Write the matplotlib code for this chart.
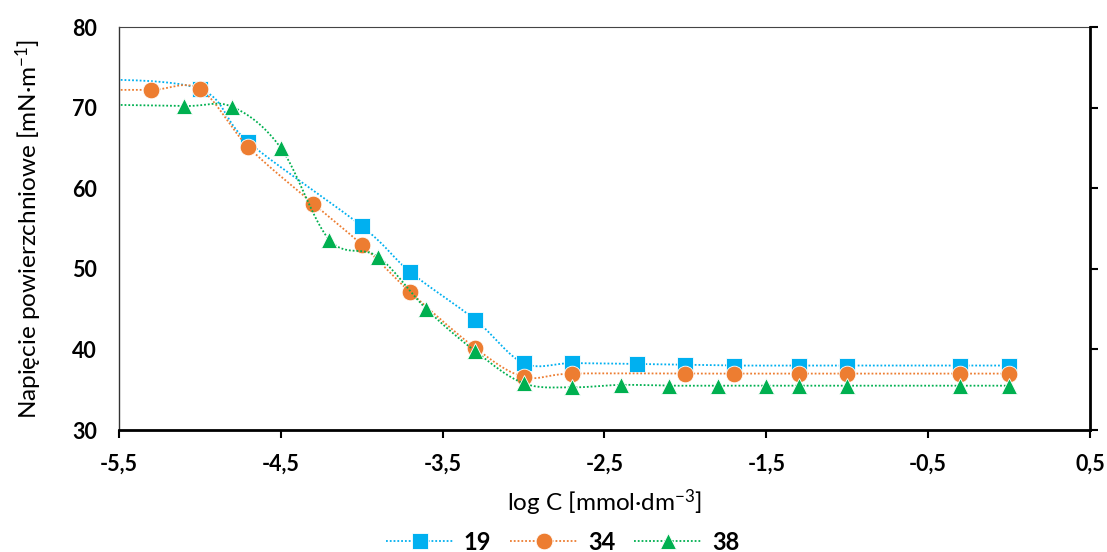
import numpy as np
import matplotlib
matplotlib.use("Agg")
import matplotlib.pyplot as plt
from matplotlib.lines import Line2D

plt.rcParams['font.family'] = ['Lato', 'DejaVu Sans']
plt.rcParams['mathtext.fontset'] = 'custom'
plt.rcParams['mathtext.rm'] = 'Lato'
plt.rcParams['mathtext.default'] = 'regular'

# data (first point of each series sits left of the axis and gets clipped)
x19 = [-5.7, -5.0, -4.7, -4.0, -3.7, -3.3, -3.0, -2.7, -2.3, -2.0, -1.7, -1.3, -1.0, -0.3, 0.0]
y19 = [73.6, 72.3, 65.7, 55.3, 49.6, 43.7, 38.3, 38.3, 38.2, 38.1, 38.0, 38.0, 38.0, 38.0, 38.0]

x34 = [-5.7, -5.3, -5.0, -4.7, -4.3, -4.0, -3.7, -3.3, -3.0, -2.7, -2.0, -1.7, -1.3, -1.0, -0.3, 0.0]
y34 = [72.2, 72.2, 72.3, 65.1, 58.1, 53.0, 47.1, 40.2, 36.6, 37.0, 37.0, 37.0, 37.0, 37.0, 37.0, 37.0]

x38 = [-5.7, -5.1, -4.8, -4.5, -4.2, -3.9, -3.6, -3.3, -3.0, -2.7, -2.4, -2.1, -1.8, -1.5, -1.3, -1.0, -0.3, 0.0]
y38 = [70.4, 70.2, 70.1, 65.0, 53.6, 51.5, 45.0, 39.8, 35.8, 35.3, 35.6, 35.5, 35.5, 35.5, 35.5, 35.5, 35.5, 35.5]

labels = ['19', '34', '38']
colors = ['#00B0F0', '#ED7D31', '#00B050']
markers = ['s', 'o', '^']


def smooth(xs, ys, n=30):
    # Excel-like smoothed line: Bezier segments with Catmull-Rom control points
    p = np.column_stack([xs, ys]).astype(float)
    pts = []
    for i in range(len(p) - 1):
        p0 = p[i - 1] if i > 0 else p[i]
        p1, p2 = p[i], p[i + 1]
        p3 = p[i + 2] if i + 2 < len(p) else p[i + 1]
        c1 = p1 + (p2 - p0) / 6.0
        c2 = p2 - (p3 - p1) / 6.0
        t = np.linspace(0, 1, n)[:, None]
        seg = ((1 - t) ** 3) * p1 + 3 * ((1 - t) ** 2) * t * c1 + 3 * (1 - t) * t ** 2 * c2 + t ** 3 * p2
        pts.append(seg)
    pts = np.vstack(pts)
    return pts[:, 0], pts[:, 1]


fig = plt.figure(figsize=(11.07, 5.52), dpi=100)
ax = fig.add_axes([0.1075, 0.221, 0.8771, 0.730])

dots = (0, (1, 1.1))
handles = []
for xs, ys, c, m, lab in zip([x19, x34, x38], [y19, y34, y38], colors, markers, labels):
    sx, sy = smooth(xs, ys)
    ax.plot(sx, sy, color=c, lw=1.3, ls=dots)
    ms = 12 if m == 'o' else 11
    ax.plot(xs, ys, ls='none', marker=m, ms=ms, color=c, mec='white', mew=0.6)
    handles.append(Line2D([0], [0], color=c, lw=1.3, ls=dots, marker=m, ms=ms, mec='white', mew=0.6))

ax.set_xlim(-5.5, 0.5)
ax.set_ylim(30, 80)
xt = np.arange(-5.5, 0.51, 1.0)
ax.set_xticks(xt)
ax.set_xticklabels([f"{v:.1f}".replace('.', ',') for v in xt])
ax.set_yticks(np.arange(30, 81, 10))

for lab in ax.get_xticklabels() + ax.get_yticklabels():
    lab.set_fontweight('bold')
    lab.set_fontsize(15.5)

ax.tick_params(axis='x', direction='out', length=6, width=1.5, pad=11)
ax.tick_params(axis='y', left=False, length=0, pad=16)

ax.spines['left'].set_linewidth(1.0)
ax.spines['left'].set_color('#333333')
ax.spines['top'].set_linewidth(0.8)
ax.spines['top'].set_color('#444444')
ax.spines['bottom'].set_linewidth(2.0)
ax.spines['right'].set_visible(False)

# secondary axis on the right: only spine and outward ticks
ax2 = ax.twinx()
ax2.set_ylim(30, 80)
ax2.set_yticks(np.arange(30, 81, 10))
ax2.set_yticklabels([])
ax2.tick_params(axis='y', direction='out', length=6, width=1.5)
for s in ['left', 'top', 'bottom']:
    ax2.spines[s].set_visible(False)
ax2.spines['right'].set_linewidth(2.0)

ax.set_ylabel('Napięcie powierzchniowe [mN·m$^{-1}$]', fontsize=17.5, labelpad=20)
ax.set_xlabel('log C [mmol·dm$^{-3}$]', fontsize=17.5, labelpad=9)

leg = fig.legend(handles, labels, loc='center', bbox_to_anchor=(0.508, 0.018), ncol=3,
                 frameon=False, handlelength=2.9, columnspacing=0.8, handletextpad=0.4,
                 borderpad=0.0, prop={'weight': 'bold', 'size': 17})

fig.savefig('out.png', dpi=100)
